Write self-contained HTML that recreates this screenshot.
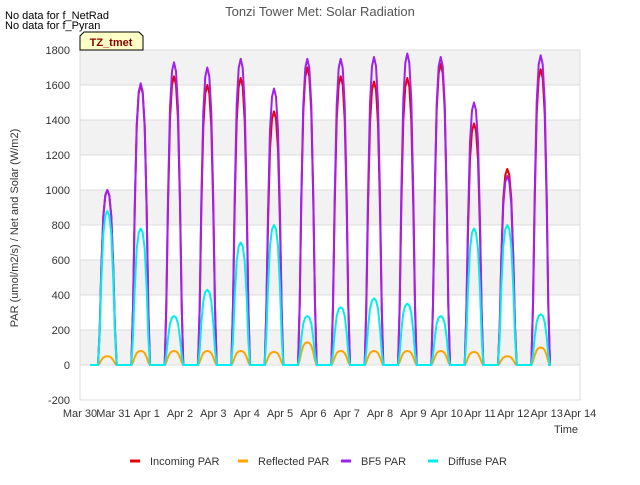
<!DOCTYPE html>
<html><head><meta charset="utf-8"><style>
body{margin:0;background:#fff;font-family:"Liberation Sans",sans-serif;}
svg text{font-family:"Liberation Sans",sans-serif;}
</style></head><body>
<svg id="chart" width="640" height="480">
<text x="320" y="16" text-anchor="middle" font-size="13" fill="#555">Tonzi Tower Met: Solar Radiation</text>
<text x="5" y="19" font-size="11" fill="#000">No data for f_NetRad</text>
<text x="5" y="29" font-size="11" fill="#000">No data for f_Pyran</text>
<g id="bands"></g><g id="grid"></g><g id="series"></g><g id="axes"></g>
<g>
<path d="M80,50 L80,36 L84,32 L139,32 L143,36 L143,50 Z" fill="#ffffc8" stroke="#000" stroke-width="1"/>
<text x="111" y="46" text-anchor="middle" font-size="11" font-weight="bold" fill="#8b0000">TZ_tmet</text>
</g>
<text x="566" y="433" text-anchor="middle" font-size="11" fill="#333">Time</text>
<text transform="translate(18,228) rotate(-90)" text-anchor="middle" font-size="11" fill="#333">PAR (umol/m2/s) / Net and Solar (W/m2)</text>
<g id="legend"></g>
</svg>
<script>
const xTicks=["Mar 30","Mar 31","Apr 1","Apr 2","Apr 3","Apr 4","Apr 5","Apr 6","Apr 7","Apr 8","Apr 9","Apr 10","Apr 11","Apr 12","Apr 13","Apr 14"];
const yTicks=[-200,0,200,400,600,800,1000,1200,1400,1600,1800];
const incomingPeaks=[1000,1600,1650,1600,1640,1450,1700,1650,1620,1640,1720,1380,1120,1690];
const bf5Peaks=[1000,1610,1730,1700,1750,1580,1750,1750,1760,1780,1760,1500,1080,1770];
const diffusePeaks=[880,780,280,430,700,800,280,330,380,350,280,780,800,290];
const reflectedPeaks=[50,80,80,80,80,75,130,80,80,80,80,75,50,100];
const dayShapeOffsets=[-0.28,-0.23,-0.18,-0.12,-0.06,0,0.06,0.12,0.18,0.23,0.28];
const dayShapeValues=[0,0.2,0.55,0.85,0.97,1,0.97,0.85,0.55,0.2,0];
const noonFrac=0.82, startDay=0.3, endDay=14.05;

const X0=80,X1=580,Y0=400,Y1=50;
const xs=d=>X0+(d/15)*(X1-X0);
const ys=v=>Y0-(v+200)/2000*(Y0-Y1);
const NS="http://www.w3.org/2000/svg";
function mk(tag,attrs,parent){const e=document.createElementNS(NS,tag);for(const k in attrs)e.setAttribute(k,attrs[k]);document.getElementById(parent).appendChild(e);return e;}

for(let i=0;i<yTicks.length-1;i++){
  const v=yTicks[i];
  const r=mk('rect',{x:X0,y:ys(v+200),width:X1-X0,height:ys(v)-ys(v+200),fill:(i%2==1)?'#f2f2f2':'#ffffff'},'bands');
  
  
}
yTicks.forEach(v=>{
  const l=mk('line',{x1:X0,x2:X1,y1:ys(v),y2:ys(v),stroke:'#dcdcdc','stroke-width':1},'grid');
  
  
  const t=mk('text',{x:X0-10,y:ys(v)+4,'text-anchor':'end','font-size':11,fill:'#333'},'axes');
  t.textContent=v;
  
  
});
const border=mk('rect',{x:X0,y:Y1,width:X1-X0,height:Y0-Y1,fill:'none',stroke:'#dcdcdc','stroke-width':1},'grid');


xTicks.forEach((s,i)=>{
  const t=mk('text',{x:xs(i),y:Y0+17,'text-anchor':'middle','font-size':11,fill:'#333'},'axes');
  t.textContent=s;
  
  
});

function build(peaks){
  const pts=[[startDay,0]];
  peaks.forEach((p,d)=>{dayShapeOffsets.forEach((o,j)=>pts.push([d+noonFrac+o,p*dayShapeValues[j]]));});
  pts.push([endDay,0]);
  return pts.map(q=>xs(q[0]).toFixed(1)+','+ys(q[1]).toFixed(1)).join(' ');
}
const series=[["incoming-par-line",incomingPeaks,"#ee0000"],["reflected-par-line",reflectedPeaks,"#ffa500"],["bf5-par-line",bf5Peaks,"#a020f0"],["diffuse-par-line",diffusePeaks,"#00eeee"]];
series.forEach(s=>{
  const p=mk('polyline',{points:build(s[1]),fill:'none',stroke:s[2],'stroke-width':2,'stroke-linejoin':'round'},'series');
  
  
});

const legendItems=[["Incoming PAR","#ee0000",135],["Reflected PAR","#ffa500",243],["BF5 PAR","#a020f0",346],["Diffuse PAR","#00eeee",433]];
legendItems.forEach(it=>{
  const l=mk('line',{x1:it[2]-5,x2:it[2]+5,y1:461,y2:461,stroke:it[1],'stroke-width':3},'legend');
  
  
  const t=mk('text',{x:it[2]+15,y:465,'font-size':11,fill:'#333'},'legend');
  t.textContent=it[0];
  
  
});
</script>
</body></html>
